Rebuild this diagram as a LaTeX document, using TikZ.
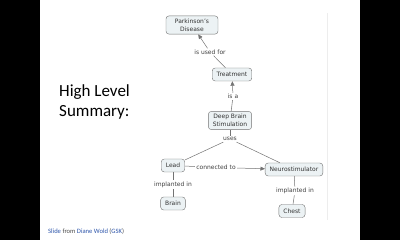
\documentclass[tikz,border=0pt]{standalone}
\usepackage{fontspec}
\setmainfont{DejaVu Sans}
\newfontfamily\titlefont{Carlito}
\usetikzlibrary{arrows.meta,positioning}
\definecolor{cmapfill}{RGB}{236,242,244}
\definecolor{cmapline}{RGB}{115,115,115}
\definecolor{linkblue}{RGB}{45,85,170}

\begin{document}
\begin{tikzpicture}[x=1pt, y=-1pt,
      concept/.style={draw=cmapline, fill=cmapfill, rounded corners=3pt, align=center,
        font=\fontsize{6}{7.6}\selectfont, text=black!80, inner xsep=4.5pt, inner ysep=3pt, minimum height=13pt},
      linklab/.style={font=\fontsize{6}{7.6}\selectfont, text=black!75, inner sep=1.2pt},
      conn/.style={draw=black!55, line width=0.5pt},
      tip/.style={conn, -{Triangle[length=4.5pt,width=4pt]}}]
    % slide and black bars
    \useasboundingbox (0,0) rectangle (400,240);
    \fill[black] (0,0) rectangle (40,240);
    \fill[black] (360,0) rectangle (400,240);
    \draw[black!7, line width=0.4pt] (327,13) -- (327,220);
    % title and footer
    \node[font=\titlefont\fontsize{17}{20}\selectfont, align=left, anchor=north west, inner sep=0pt] (title) at (59,84) {High Level\\Summary:};
    \node[font=\titlefont\fontsize{6.6}{8}\selectfont, anchor=west, inner sep=0pt, text=black!70] (credit) at (48,232)
      {\textcolor{linkblue}{Slide} from \textcolor{linkblue}{Diane Wold} (\textcolor{linkblue}{GSK})};
    % concepts
    \node[concept, minimum width=52pt] (pd) at (192,25) {Parkinson's\\Disease};
    \node[concept] (trt) at (232,74.5) {Treatment};
    \node[concept] (dbs) at (230,120.5) {Deep Brain\\Stimulation};
    \node[concept] (lead) at (173,165.5) {Lead};
    \node[concept] (neuro) at (294,169.5) {Neurostimulator};
    \node[concept] (brain) at (173,203.5) {Brain};
    \node[concept] (chest) at (292,211) {Chest};
    % linking phrases
    \node[linklab] (usedfor) at (210,52) {is used for};
    \node[linklab] (isa) at (233,96.5) {is a};
    \node[linklab] (uses) at (230,139) {uses};
    \node[linklab] (connto) at (216,167.5) {connected to};
    \node[linklab] (impl1) at (173,184.5) {implanted in};
    \node[linklab] (impl2) at (295,191) {implanted in};
    % links
    \draw[conn] (trt) -- (usedfor);
    \draw[tip] (usedfor) -- (pd);
    \draw[conn] (dbs) -- (isa);
    \draw[tip] (isa) -- (trt);
    \draw[conn] (dbs) -- (uses);
    \draw[conn] (uses) -- (lead);
    \draw[conn] (uses) -- (neuro);
    \draw[conn] (lead) -- (connto);
    \draw[tip] (connto) -- (neuro);
    \draw[conn] (lead) -- (impl1);
    \draw[conn] (impl1) -- (brain);
    \draw[conn] (neuro) -- (impl2);
    \draw[conn] (impl2) -- (chest);
  \end{tikzpicture}
\end{document}
